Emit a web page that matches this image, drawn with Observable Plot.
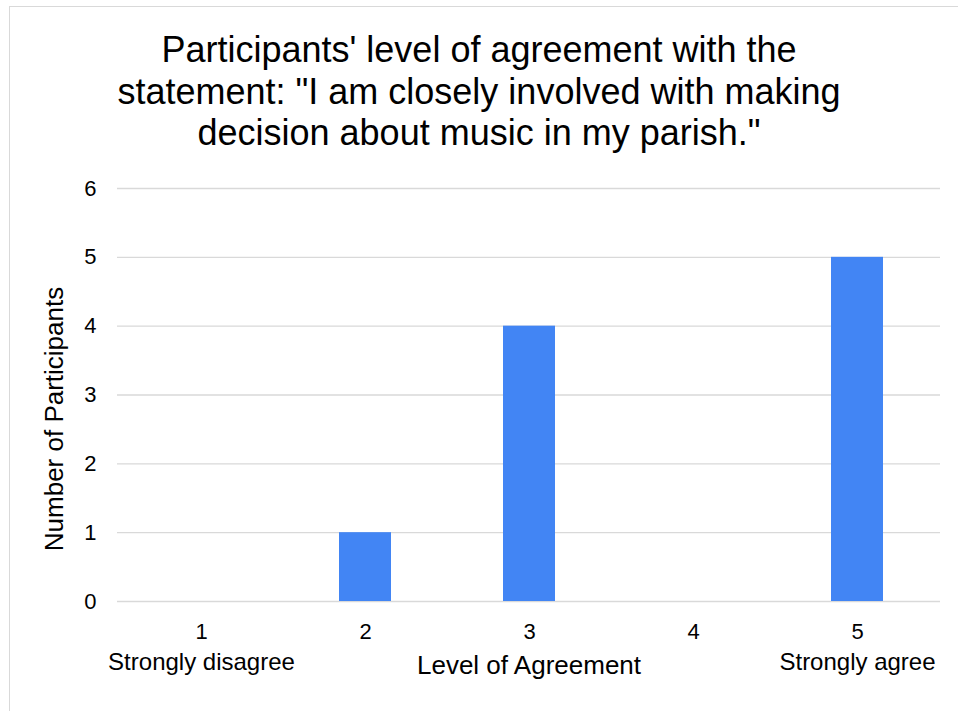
<!DOCTYPE html>
<html>
<head>
<meta charset="utf-8">
<script src="https://cdn.jsdelivr.net/npm/d3@7"></script>
<script src="https://cdn.jsdelivr.net/npm/@observablehq/plot@0.6"></script>
<style>
  html, body { margin: 0; padding: 0; background: #fff; }
  body { font-family: Arial, "Liberation Sans", sans-serif; }
  #wrap { position: relative; width: 958px; height: 711px; overflow: hidden; }
  #frame { position: absolute; left: 9px; top: 6px; right: -2px; bottom: -2px;
           border-left: 1px solid #d9d9d9; border-top: 1px solid #d9d9d9; }
  #title { position: absolute; left: 0; top: 29px; width: 958px; text-align: center;
           font-size: 36px; line-height: 41.5px; color: #000; }
  #chart { position: absolute; left: 0; top: 170px; }
</style>
</head>
<body>
<div id="wrap">
  <div id="frame"></div>
  <div id="title">Participants' level of agreement with the<br>statement: "I am closely involved with making<br>decision about music in my parish."</div>
  <div id="chart"></div>
</div>
<script>
const levels = [1, 2, 3, 4, 5];
const counts = [0, 1, 4, 0, 5];
const descriptors = ["Strongly disagree", "", "", "", "Strongly agree"];
const yTicks = [0, 1, 2, 3, 4, 5, 6];

const data = levels.map((l, i) => ({level: l, count: counts[i], desc: descriptors[i]}));

const chart = Plot.plot({
  width: 958,
  height: 541,
  marginTop: 18,
  marginBottom: 110,
  marginLeft: 117,
  marginRight: 18,
  style: {fontFamily: "Arial, 'Liberation Sans', sans-serif", fontSize: "22px", color: "#000", background: "transparent"},
  x: {domain: levels, paddingInner: 0.684, paddingOuter: 0.342, label: null, tickSize: 0, tickPadding: 22},
  y: {domain: [0, 6], ticks: yTicks, tickFormat: d => String(d), label: null, tickSize: 0, tickPadding: 21},
  marks: [
    Plot.gridY(yTicks, {stroke: "#d9d9d9", strokeOpacity: 1, strokeWidth: 1.3}),
    Plot.barY(data, {x: "level", y: "count", fill: "#4285F4"}),
    Plot.text(data.filter(d => d.desc), {x: "level", frameAnchor: "bottom", dy: 68, text: "desc", fontSize: 24}),
    Plot.text(["Level of Agreement"], {frameAnchor: "bottom", dy: 72, fontSize: 26}),
    Plot.text(["Number of Participants"], {frameAnchor: "left", textAnchor: "middle", dx: -63, dy: 24, rotate: -90, fontSize: 26})
  ]
});
document.getElementById("chart").appendChild(chart);
</script>
</body>
</html>
